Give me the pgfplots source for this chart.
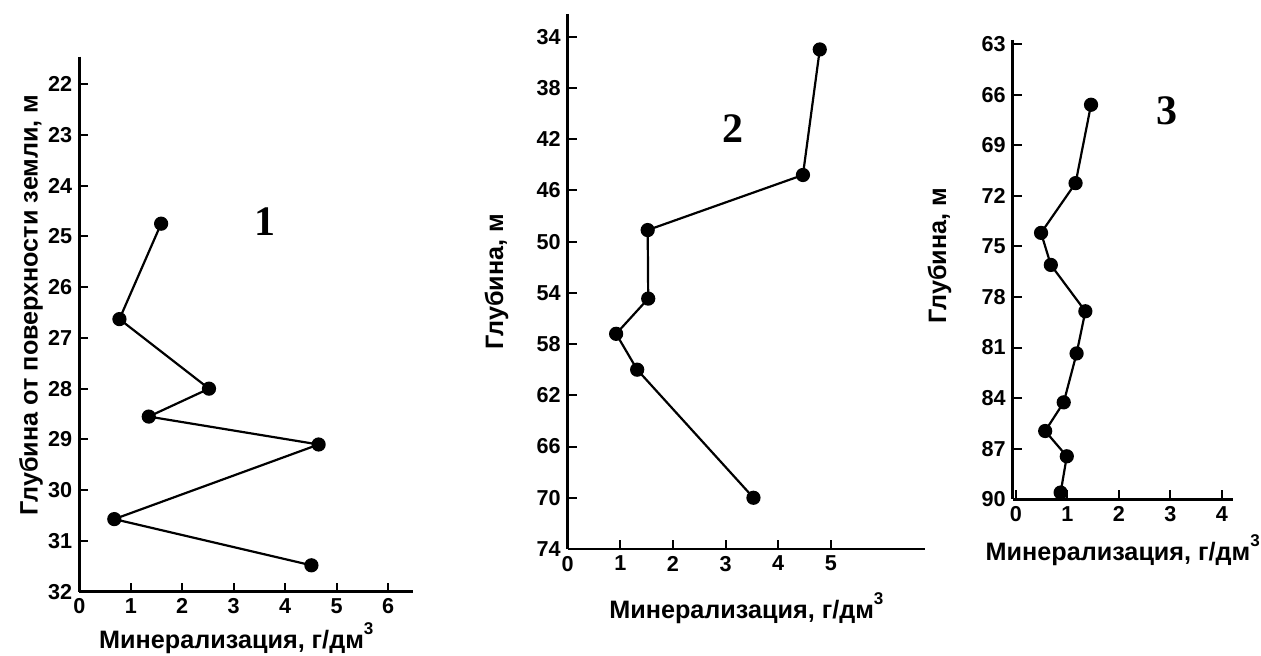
\documentclass[border=0pt]{standalone}
\usepackage{fontspec}
\setmainfont{Liberation Sans}
\newfontfamily\serifb{Liberation Serif}
\usepackage{pgfplots}
\pgfplotsset{compat=1.18}
\newcommand{\cubed}{\raisebox{1.05ex}{\fontsize{8.5}{9}\selectfont 3}}
\pgfplotsset{
 myax/.style={
  scale only axis,
  axis lines=left,
  axis line style={-, line width=1.3pt},
  y dir=reverse,
  tick align=inside,
  major tick length=4.5pt,
  tick style={black, line width=1pt},
  /pgf/number format/assume math mode=true,
  tick label style={font=\fontsize{10.8}{12}\selectfont\bfseries},
  label style={font=\fontsize{12.6}{14}\selectfont\bfseries},
  clip=false,
 },
 dat/.style={black, line width=1.1pt, mark=*, mark size=3pt, mark options={solid,fill=black}},
}
\begin{document}
\begin{tikzpicture}
\useasboundingbox (0,0) rectangle (630.5pt,328pt);
\begin{axis}[myax, at={(39.65pt,32.15pt)}, anchor=south west, width=167pt, height=267.5pt,
 xmin=0, xmax=6.49, ymin=21.46, ymax=32, xtick={0,...,6}, ytick={22,...,32},
 xlabel={Минерализация, г/дм\cubed},
 xlabel style={at={(axis description cs:0.47,0)}, anchor=base, yshift=-28.2pt},
 ylabel={Глубина от поверхности земли, м},
 ylabel style={at={(axis description cs:-0.125,0.536)}, anchor=base},
]
\addplot[dat] coordinates {(1.59,24.75) (0.78,26.63) (2.52,28.0) (1.35,28.55) (4.65,29.1) (0.68,30.57) (4.51,31.48)};
\node[font=\serifb\bfseries\fontsize{21}{23}\selectfont] at (axis cs:3.61,24.7) {1};
\end{axis}
\begin{axis}[myax, at={(283.85pt,53.5pt)}, anchor=south west, width=178.65pt, height=267.5pt,
 xmin=0, xmax=6.79, ymin=32.23, ymax=74, xtick={0,...,5}, ytick={34,38,...,74},
 xlabel={Минерализация, г/дм\cubed},
 xlabel style={at={(axis description cs:0.5,0)}, anchor=base, yshift=-34.5pt},
 ylabel={Глубина, м},
 ylabel style={at={(axis description cs:-0.181,0.5)}, anchor=base},
]
\addplot[dat] coordinates {(4.79,35.0) (4.47,44.8) (1.52,49.1) (1.53,54.45) (0.92,57.2) (1.32,60.0) (3.53,70.0)};
\node[font=\serifb\bfseries\fontsize{21}{23}\selectfont] at (axis cs:3.14,41.2) {2};
\end{axis}
\begin{axis}[myax, at={(506.35pt,78.35pt)}, anchor=south west, width=110pt, height=229.65pt,
 xmin=-0.06, xmax=4.21, ymin=62.76, ymax=90, xtick={0,...,4}, ytick={63,66,...,90},
 xlabel={Минерализация, г/дм\cubed},
 xlabel style={at={(axis description cs:0.5,0)}, anchor=base, yshift=-30.4pt},
 ylabel={Глубина, м},
 ylabel style={at={(axis description cs:-0.303,0.53)}, anchor=base},
]
\addplot[dat] coordinates {(1.46,66.6) (1.16,71.25) (0.49,74.2) (0.68,76.1) (1.35,78.85) (1.18,81.35) (0.93,84.25) (0.57,85.95) (0.99,87.45) (0.87,89.6)};
\node[font=\serifb\bfseries\fontsize{21}{23}\selectfont] at (axis cs:2.93,66.97) {3};
\end{axis}
\end{tikzpicture}
\end{document}
